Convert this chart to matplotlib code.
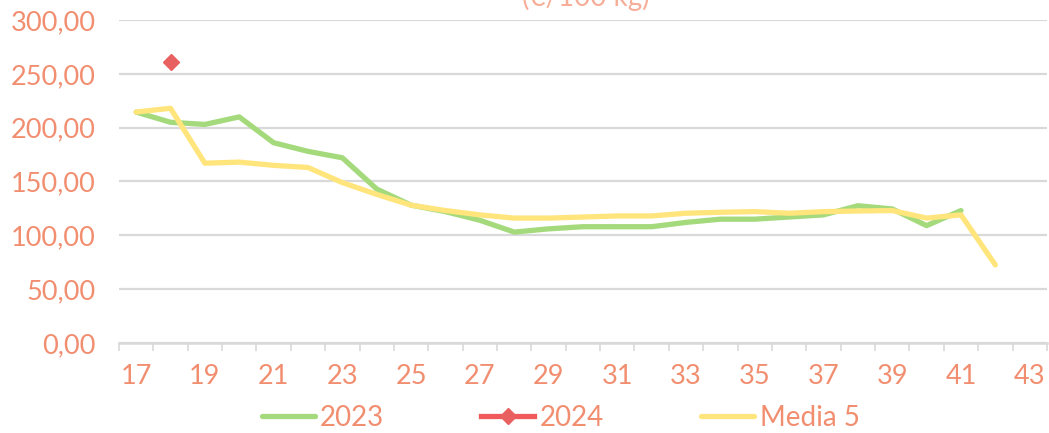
import numpy as np
import matplotlib.pyplot as plt

# weeks (category axis)
weeks = list(range(17, 44))
tick_weeks = list(range(17, 44, 2))

# price series (EUR / 100 kg)
y2023 = [214.5, 205, 203, 210, 186, 178, 172, 143, 128, 122, 114, 103, 106, 108,
         108, 108, 112, 115, 115, 117, 119, 127.5, 124.5, 109, 123]
y2024 = [None, 261]
media5 = [214.5, 218, 167, 168, 165, 163, 149, 138, 128, 123, 119, 116, 116, 117,
          118, 118, 120.5, 121.4, 122, 120.5, 122, 122.6, 123, 116, 119, 72.5]

txt_col = '#F28E70'
grid_col = '#D9D9D9'

plt.rcParams['font.family'] = ['Lato', 'DejaVu Sans']

fig = plt.figure(figsize=(10.49, 4.33), dpi=100)
ax = fig.add_axes([0.1134, 0.2079, 0.8846, 0.7459])

x23 = weeks[:len(y2023)]
x24 = [w for w, v in zip(weeks, y2024) if v is not None]
v24 = [v for v in y2024 if v is not None]
xm = weeks[:len(media5)]

ax.plot(x23, y2023, color='#A4DA7C', lw=3.8, solid_capstyle='round', solid_joinstyle='round', label='2023', zorder=3)
ax.plot(x24, v24, color='#F05A5A', lw=3.8, marker='D', ms=8, mfc='#E8605F', mec='#E8605F', label='2024', zorder=4)
ax.plot(xm, media5, color='#FFE57C', lw=3.8, solid_capstyle='round', solid_joinstyle='round', label='Media 5', zorder=3)

ax.set_xlim(16.5, 43.5)
ax.set_ylim(0, 300)
ax.set_yticks(np.arange(0, 301, 50))
ax.set_yticklabels(['%d,00' % v for v in range(0, 301, 50)])
ax.set_xticks(tick_weeks)
ax.set_xticklabels([str(w) for w in tick_weeks])
ax.set_xticks(np.arange(16.5, 44, 1), minor=True)

ax.grid(axis='y', color=grid_col, lw=1.6, zorder=0)
ax.set_axisbelow(True)
for s in ['top', 'right', 'left']:
    ax.spines[s].set_visible(False)
ax.spines['bottom'].set_color(grid_col)
ax.spines['bottom'].set_linewidth(1.8)

ax.tick_params(axis='y', length=0, pad=17, labelsize=19.5, labelcolor=txt_col)
ax.tick_params(axis='x', which='major', length=0, pad=15, labelsize=19.5, labelcolor=txt_col)
ax.tick_params(axis='x', which='minor', length=6, width=1.2, color=grid_col)

fig.text(0.558, 0.986, '(€/100 kg)', ha='center', va='baseline', fontsize=20, color='#F6AE98')

ax.legend(loc='lower center', bbox_to_anchor=(0.476, -0.35), ncol=3, frameon=False,
          fontsize=20, labelcolor=txt_col, handlelength=1.9, handletextpad=0.2,
          columnspacing=3.5)

fig.savefig('out.png', dpi=100)
